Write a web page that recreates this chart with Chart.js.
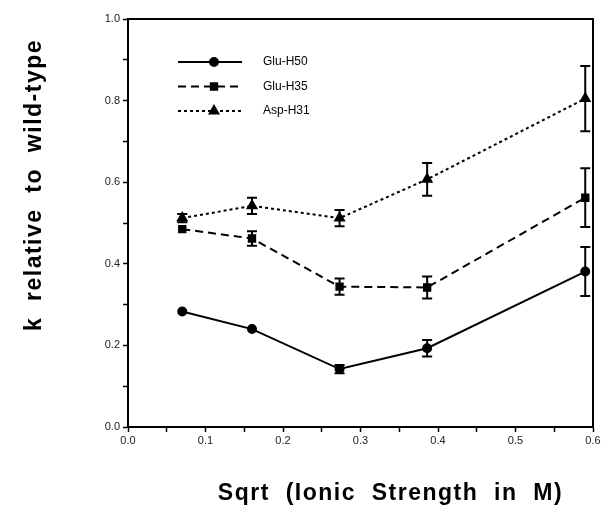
<!DOCTYPE html>
<html>
<head>
<meta charset="utf-8">
<script src="https://cdn.jsdelivr.net/npm/chart.js@4.4.1/dist/chart.umd.min.js"></script>
<style>
  html, body { margin: 0; padding: 0; background: #fff; }
  #wrap { width: 608px; height: 515px; }
</style>
</head>
<body>
<div id="wrap"><canvas id="chart" width="608" height="515"></canvas></div>
<script>
// Sqrt of ionic strength (M)
const xValues = [0.07, 0.16, 0.273, 0.386, 0.59];

// k relative to wild-type
const gluH50 = [0.283, 0.240, 0.142, 0.193, 0.381];
const gluH35 = [0.485, 0.462, 0.344, 0.342, 0.562];
const aspH31 = [0.512, 0.542, 0.512, 0.607, 0.805];

// error bars (+/-)
const gluH50Err = [0.004, 0.006, 0.01, 0.02, 0.06];
const gluH35Err = [0.004, 0.018, 0.02, 0.027, 0.072];
const aspH31Err = [0.01, 0.02, 0.02, 0.04, 0.08];

const seriesNames = ['Glu-H50', 'Glu-H35', 'Asp-H31'];

const FONT = '"Liberation Sans", Arial, Helvetica, sans-serif';

function toPoints(ys) {
    return xValues.map((x, i) => ({ x: x, y: ys[i] }));
}

const datasets = [
    { label: seriesNames[0], data: toPoints(gluH50), err: gluH50Err,
      pointStyle: 'circle', pointRadius: 4, borderDash: [] },
    { label: seriesNames[1], data: toPoints(gluH35), err: gluH35Err,
      pointStyle: 'rect', pointRadius: 4.5, borderDash: [8, 5] },
    { label: seriesNames[2], data: toPoints(aspH31), err: aspH31Err,
      pointStyle: 'triangle', pointRadius: 5, borderDash: [3, 3] }
].map(d => Object.assign({
    borderColor: '#000',
    backgroundColor: '#000',
    pointBackgroundColor: '#000',
    pointBorderColor: '#000',
    borderWidth: 2,
    tension: 0,
    showLine: true
}, d));

// error bars with caps
const errorBars = {
    id: 'errorBars',
    afterDatasetsDraw(chart) {
        const ctx = chart.ctx;
        const xs = chart.scales.x, ys = chart.scales.y;
        ctx.save();
        ctx.strokeStyle = '#000';
        ctx.lineWidth = 2;
        ctx.setLineDash([]);
        chart.data.datasets.forEach(ds => {
            ds.data.forEach((p, i) => {
                const e = ds.err[i];
                if (!e) return;
                const px = xs.getPixelForValue(p.x);
                const top = ys.getPixelForValue(p.y + e);
                const bot = ys.getPixelForValue(p.y - e);
                if (bot - top < 6) return;
                ctx.beginPath();
                ctx.moveTo(px, top); ctx.lineTo(px, bot);
                ctx.moveTo(px - 5, top); ctx.lineTo(px + 5, top);
                ctx.moveTo(px - 5, bot); ctx.lineTo(px + 5, bot);
                ctx.stroke();
            });
        });
        ctx.restore();
    }
};

// legend: line segment with marker, then label
const lineLegend = {
    id: 'lineLegend',
    afterDraw(chart) {
        const ctx = chart.ctx;
        const a = chart.chartArea;
        const x0 = a.left + 50, x1 = a.left + 114;
        ctx.save();
        ctx.font = '12px ' + FONT;
        ctx.textBaseline = 'middle';
        ctx.fillStyle = '#000';
        chart.data.datasets.forEach((ds, i) => {
            const y = a.top + 43 + i * 24.5;
            ctx.strokeStyle = '#000';
            ctx.lineWidth = 2;
            ctx.setLineDash(ds.borderDash);
            ctx.beginPath();
            ctx.moveTo(x0, y); ctx.lineTo(x1, y);
            ctx.stroke();
            ctx.setLineDash([]);
            Chart.helpers.drawPoint(ctx, {
                pointStyle: ds.pointStyle, radius: ds.pointRadius, borderWidth: 1
            }, (x0 + x1) / 2 + 4, y);
            ctx.fillText(ds.label, x1 + 21, y);
        });
        ctx.restore();
    }
};

// axis titles with the wide word gaps of the original
const axisTitles = {
    id: 'axisTitles',
    afterDraw(chart) {
        const ctx = chart.ctx;
        const a = chart.chartArea;
        ctx.save();
        ctx.fillStyle = '#000';
        ctx.font = 'bold 23px ' + FONT;
        ctx.letterSpacing = '1.5px';
        ctx.textAlign = 'center';
        ctx.textBaseline = 'middle';
        ctx.fillText('Sqrt  (Ionic  Strength  in  M)', (a.left + a.right) / 2 + 30, a.bottom + 67);
        ctx.translate(35, (a.top + a.bottom) / 2 - 38);
        ctx.rotate(-Math.PI / 2);
        ctx.fillText('k  relative  to  wild-type', 0, 0);
        ctx.restore();
    }
};

const tickFont = { family: FONT, size: 11 };

new Chart(document.getElementById('chart'), {
    type: 'scatter',
    data: { datasets: datasets },
    options: {
        responsive: false,
        animation: false,
        layout: { padding: { top: 19, right: 15, left: 0, bottom: 0 } },
        plugins: {
            legend: { display: false },
            tooltip: { enabled: false }
        },
        scales: {
            x: {
                type: 'linear',
                min: 0, max: 0.6,
                afterFit: s => { s.height = 88; },
                ticks: {
                    stepSize: 0.05,
                    color: '#222',
                    font: tickFont,
                    padding: 2,
                    autoSkip: false,
                    maxRotation: 0,
                    callback: v => (Math.round(v * 100) % 10 === 0) ? v.toFixed(1) : ''
                },
                grid: {
                    drawOnChartArea: false,
                    tickLength: 5,
                    tickColor: '#000',
                    tickWidth: 1.5
                },
                border: { color: '#000', width: 2 }
            },
            y: {
                type: 'linear',
                min: 0, max: 1,
                afterFit: s => { s.width = 128; },
                ticks: {
                    stepSize: 0.1,
                    color: '#222',
                    font: tickFont,
                    padding: 3,
                    autoSkip: false,
                    callback: v => (Math.round(v * 10) % 2 === 0) ? v.toFixed(1) : ''
                },
                grid: {
                    drawOnChartArea: false,
                    tickLength: 5,
                    tickColor: '#000',
                    tickWidth: 1.5
                },
                border: { color: '#000', width: 2 }
            }
        }
    },
    plugins: [errorBars, lineLegend, axisTitles, {
        id: 'frame',
        afterDraw(chart) {
            const ctx = chart.ctx, a = chart.chartArea;
            ctx.save();
            ctx.strokeStyle = '#000';
            ctx.lineWidth = 2;
            ctx.beginPath();
            ctx.moveTo(a.left, a.top); ctx.lineTo(a.right, a.top); ctx.lineTo(a.right, a.bottom);
            ctx.stroke();
            ctx.restore();
        }
    }]
});
</script>
</body>
</html>
